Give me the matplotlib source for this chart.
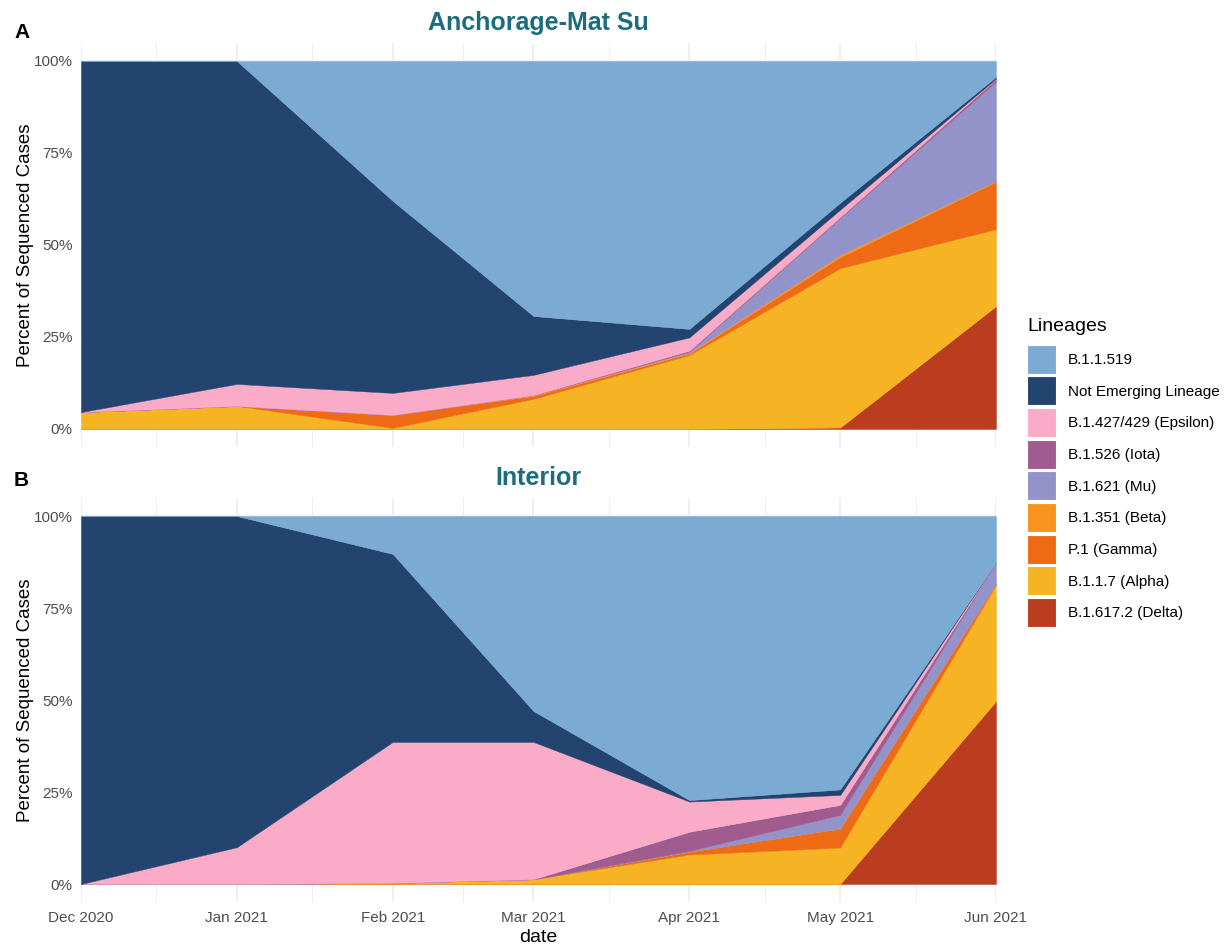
import matplotlib
matplotlib.use("Agg")
import matplotlib.pyplot as plt
import matplotlib.dates as mdates
import numpy as np
from matplotlib.patches import Patch
from matplotlib.ticker import PercentFormatter

plt.rcParams["font.family"] = ["Liberation Sans", "DejaVu Sans"]

months = np.array(["2020-12-01", "2021-01-01", "2021-02-01", "2021-03-01",
                   "2021-04-01", "2021-05-01", "2021-06-01"], dtype="datetime64[D]")

# legend order (top of stack first)
lineages = ["B.1.1.519", "Not Emerging Lineage", "B.1.427/429 (Epsilon)",
            "B.1.526 (Iota)", "B.1.621 (Mu)", "B.1.351 (Beta)",
            "P.1 (Gamma)", "B.1.1.7 (Alpha)", "B.1.617.2 (Delta)"]
colors = ["#7BAAD3", "#22446F", "#F9ABC7", "#A05C8F", "#9493C9",
          "#F7931E", "#EE6A14", "#F6B324", "#B93D1E"]

# Anchorage-Mat Su, percent of sequenced cases per month
anc_b519 = [0, 0, 38.0, 69.3, 72.8, 38.5, 4.3]
anc_nel = [95.4, 87.75, 52.2, 16.0, 2.3, 1.9, 0.5]
anc_epsilon = [0, 6.0, 6.0, 5.5, 3.6, 2.0, 0.1]
anc_iota = [0, 0, 0, 0, 0.3, 0.3, 0.7]
anc_mu = [0, 0, 0, 0, 0.3, 10.0, 27.0]
anc_beta = [0, 0, 0, 0.2, 0.2, 0.6, 0.2]
anc_gamma = [0, 0, 3.5, 0.8, 0.4, 3.0, 12.9]
anc_alpha = [4.6, 6.25, 0.3, 8.2, 20.1, 43.3, 20.9]
anc_delta = [0, 0, 0, 0, 0, 0.4, 33.4]

# Interior
int_b519 = [0, 0, 10.3, 53.0, 77.2, 74.3, 12.7]
int_nel = [100, 90, 51.1, 8.4, 0.4, 1.5, 0]
int_epsilon = [0, 10, 38.3, 37.3, 8.2, 2.7, 0]
int_iota = [0, 0, 0, 0, 5.2, 2.75, 0]
int_mu = [0, 0, 0, 0, 0.2, 3.65, 5.7]
int_beta = [0, 0, 0, 0, 0, 0, 0]
int_gamma = [0, 0, 0, 0, 0.8, 5.2, 0.3]
int_alpha = [0, 0, 0.3, 1.3, 8.0, 9.9, 31.6]
int_delta = [0, 0, 0, 0, 0, 0, 49.7]

anchorage = [anc_b519, anc_nel, anc_epsilon, anc_iota, anc_mu,
             anc_beta, anc_gamma, anc_alpha, anc_delta]
interior = [int_b519, int_nel, int_epsilon, int_iota, int_mu,
            int_beta, int_gamma, int_alpha, int_delta]

TEAL = "#1B6D7E"
GRID = "#EBEBEB"
W, H = 1227, 949

fig = plt.figure(figsize=(W / 100, H / 100), dpi=100)
ax_top = fig.add_axes([81 / W, 1 - 447.4 / H, 915 / W, 404.8 / H])
ax_bot = fig.add_axes([81 / W, 1 - 902.4 / H, 915 / W, 404.8 / H])

minor_x = months[:-1] + (months[1:] - months[:-1]) // 2


def draw_panel(ax, series, title, tag, tag_y, show_x):
    # stack bottom-up, so reverse the legend order
    ax.stackplot(months, *series[::-1], colors=colors[::-1],
                 linewidth=0.3, edgecolor="face")
    ax.set_xlim(months[0], months[-1])
    ax.set_ylim(-5, 105)
    ax.set_yticks([0, 25, 50, 75, 100])
    ax.yaxis.set_major_formatter(PercentFormatter(100, decimals=0))
    ax.set_xticks(months)
    ax.set_xticks(minor_x, minor=True)
    ax.xaxis.set_major_formatter(mdates.DateFormatter("%b %Y"))
    ax.grid(True, which="major", color=GRID, lw=1.1, zorder=0)
    ax.grid(True, which="minor", axis="x", color=GRID, lw=0.6, zorder=0)
    ax.set_axisbelow(True)
    for s in ax.spines.values():
        s.set_visible(False)
    ax.tick_params(which="both", length=0, labelsize=11,
                   labelcolor="#4D4D4D", pad=6)
    if not show_x:
        ax.tick_params(axis="x", labelbottom=False)
    else:
        ax.set_xlabel("date", fontsize=14, labelpad=3)
    ax.set_ylabel("Percent of Sequenced Cases", fontsize=13.5)
    ax.yaxis.set_label_coords(-0.051, 0.5)
    ax.set_title(title, fontsize=18, fontweight="bold", color=TEAL, pad=9)
    fig.text(14 / W, 1 - tag_y / H, tag, fontsize=15, fontweight="bold",
             ha="left", va="center")


draw_panel(ax_top, anchorage, "Anchorage-Mat Su", "A", 33, False)
draw_panel(ax_bot, interior, "Interior", "B", 480, True)

handles = [Patch(facecolor=c, edgecolor="white", linewidth=0.8) for c in colors]
leg = fig.legend(handles, lineages, loc="upper left",
                 bbox_to_anchor=(1027 / W, 1 - 318 / H), frameon=False,
                 title="Lineages", title_fontsize=14, fontsize=11,
                 handlelength=1.9, handleheight=2.55, labelspacing=0.17,
                 handletextpad=0.78, borderpad=0, borderaxespad=0)
leg._legend_box.align = "left"
leg._legend_box.sep = 7

fig.savefig("out.png", dpi=100)
